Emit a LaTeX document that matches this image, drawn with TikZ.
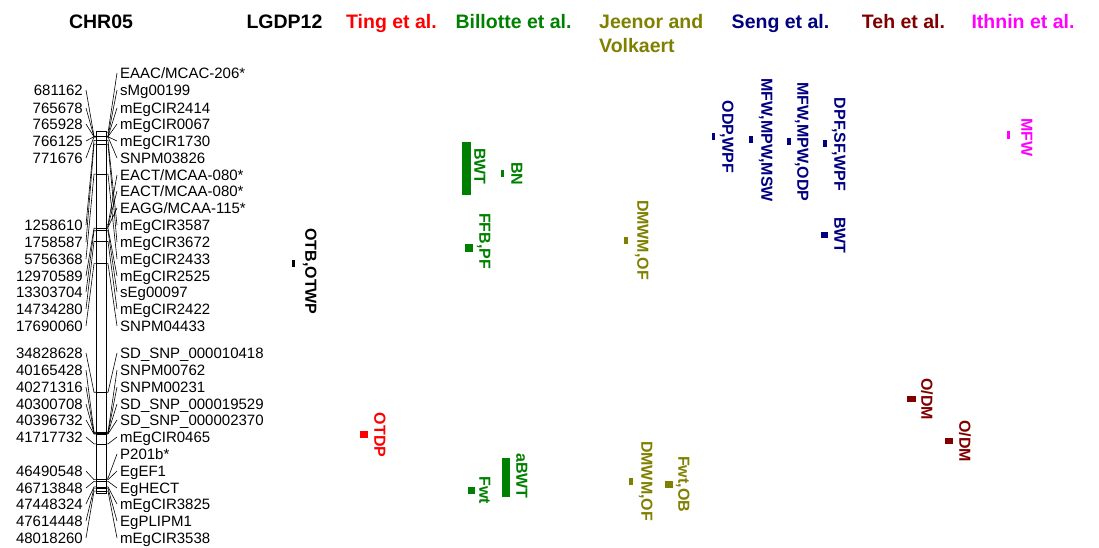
\documentclass[tikz,border=0pt]{standalone}
\usepackage{fontspec}
\setmainfont{Liberation Sans}
\definecolor{cgreen}{RGB}{0,128,0}
\definecolor{colive}{RGB}{128,128,0}
\definecolor{cnavy}{RGB}{0,0,128}
\definecolor{cmaroon}{RGB}{128,0,0}
\definecolor{cred}{RGB}{255,0,0}
\definecolor{cmag}{RGB}{255,0,255}
\begin{document}
\begin{tikzpicture}[x=1pt,y=-1pt,
  hdr/.style={font=\fontsize{19.5}{22}\selectfont\bfseries, inner sep=0, anchor=base},
  mk/.style={font=\fontsize{15}{16}\selectfont, inner sep=0, text height=10.7pt, text depth=0pt},
  qlab/.style={font=\fontsize{16}{18}\selectfont\bfseries, inner sep=0, rotate=-90, text height=11.5pt, text depth=0pt, anchor=center},
  conn/.style={line width=0.6pt},
  band/.style={line width=0.6pt},
  chrom/.style={line width=0.9pt}
]
\useasboundingbox[fill=white] (0,0) rectangle (1099,548);

% headers
\node[hdr] (hchr) at (101,28.5) {CHR05};
\node[hdr] (hlg) at (284.5,28.5) {LGDP12};
\node[hdr, text=cred] (hting) at (391.5,28.5) {Ting et al.};
\node[hdr, text=cgreen] (hbil) at (513.5,28.5) {Billotte et al.};
\node[hdr, text=colive, anchor=base west] (hjee) at (599,28.5) {Jeenor and};
\node[hdr, text=colive, anchor=base west] (hvol) at (599,53) {Volkaert};
\node[hdr, text=cnavy] (hseng) at (780.5,28.5) {Seng et al.};
\node[hdr, text=cmaroon] (hteh) at (903.5,28.5) {Teh et al.};
\node[hdr, text=cmag] (hith) at (1023,28.5) {Ithnin et al.};

% chromosome
\draw[chrom] (96,131) rectangle (106,493);

% left markers (positions)
\foreach \ly/\mb/\txt [count=\i] in {
 90/0.681162/681162, 108/0.765678/765678, 124/0.765928/765928, 141/0.766125/766125,
 158/0.771676/771676, 225/1.258610/1258610, 242/1.758587/1758587, 259/5.756368/5756368,
 276/12.970589/12970589, 292/13.303704/13303704, 309/14.734280/14734280, 326/17.690060/17690060,
 353/34.828628/34828628, 370/40.165428/40165428, 387/40.271316/40271316, 404/40.300708/40300708,
 420/40.396732/40396732, 437/41.717732/41717732, 471/46.490548/46490548, 488/46.713848/46713848,
 504/47.448324/47448324, 521/47.614448/47614448, 538/48.018260/48018260}{
  \pgfmathsetmacro\ym{131+7.5*\mb}
  \node[mk, anchor=east] (L\i) at (83,\ly) {\txt};
  \coordinate (CL\i) at (96,\ym);
  \draw[conn] ([xshift=3pt]L\i.east) -- ([xshift=-2pt]CL\i) -- (CL\i);
  \draw[band] (CL\i) -- ++(10,0);
}

% right markers (names)
\foreach \ly/\mb/\txt [count=\i] in {
 73/0.25/{EAAC/MCAC-206*}, 90/0.681162/sMg00199, 108/0.765678/mEgCIR2414, 124/0.765928/mEgCIR0067,
 141/0.766125/mEgCIR1730, 158/0.771676/SNPM03826, 175/12.5/{EACT/MCAA-080*}, 191/12.7/{EACT/MCAA-080*},
 208/12.85/{EAGG/MCAA-115*}, 225/1.258610/mEgCIR3587, 242/1.758587/mEgCIR3672, 259/5.756368/mEgCIR2433,
 276/12.970589/mEgCIR2525, 292/13.303704/sEg00097, 309/14.734280/mEgCIR2422, 326/17.690060/SNPM04433,
 353/34.828628/{SD\_SNP\_000010418}, 370/40.165428/SNPM00762, 387/40.271316/SNPM00231,
 404/40.300708/{SD\_SNP\_000019529}, 420/40.396732/{SD\_SNP\_000002370}, 437/41.717732/mEgCIR0465,
 454/46.3/{P201b*}, 471/46.490548/EgEF1, 488/46.713848/EgHECT, 504/47.448324/mEgCIR3825,
 521/47.614448/EgPLIPM1, 538/48.018260/mEgCIR3538}{
  \pgfmathsetmacro\ym{131+7.5*\mb}
  \node[mk, anchor=west] (R\i) at (120,\ly) {\txt};
  \coordinate (CR\i) at (106,\ym);
  \draw[conn] ([xshift=-3pt]R\i.west) -- ([xshift=2pt]CR\i) -- (CR\i);
}

% QTL bars
\fill[black] (291.5,259.5) rectangle (294.5,267);
\fill[cred] (360,431) rectangle (368,438);
\fill[cgreen] (462,142) rectangle (471,195);
\fill[cgreen] (500.5,170.5) rectangle (503.5,177.5);
\fill[cgreen] (465,244) rectangle (473,252);
\fill[cgreen] (502,458) rectangle (510,497);
\fill[cgreen] (468,487) rectangle (475,494);
\fill[colive] (624,236.5) rectangle (627.5,243.5);
\fill[colive] (629,477.5) rectangle (632.5,484.5);
\fill[colive] (665,481) rectangle (673,488);
\fill[cnavy] (711.5,133) rectangle (715,140);
\fill[cnavy] (748.5,136) rectangle (752.5,143);
\fill[cnavy] (786.5,138) rectangle (790.5,145);
\fill[cnavy] (822.5,140) rectangle (826.5,147);
\fill[cnavy] (821,232) rectangle (828,238);
\fill[cmaroon] (907,396) rectangle (916,402);
\fill[cmaroon] (945,438) rectangle (953,444);
\fill[cmag] (1007,131.5) rectangle (1010,139);

% QTL labels
\node[qlab] (q1) at (311,271.5) {OTB,OTWP};
\node[qlab, text=cred] (q2) at (380,435) {OTDP};
\node[qlab, text=cgreen] (q3) at (480,166.5) {BWT};
\node[qlab, text=cgreen] (q4) at (517,174) {BN};
\node[qlab, text=cgreen] (q5) at (485,241) {FFB,PF};
\node[qlab, text=cgreen] (q6) at (522,476) {aBWT};
\node[qlab, text=cgreen] (q7) at (485,490) {Fwt};
\node[qlab, text=colive] (q8) at (643,240) {DMWM,OF};
\node[qlab, text=colive] (q9) at (647,481) {DMWM,OF};
\node[qlab, text=colive] (q10) at (684,484) {Fwt,OB};
\node[qlab, text=cnavy] (q11) at (728,137) {ODP,WPF};
\node[qlab, text=cnavy] (q12) at (767,140) {MFW,MPW,MSW};
\node[qlab, text=cnavy] (q13) at (803,142) {MFW,MPW,ODP};
\node[qlab, text=cnavy] (q14) at (840,144.5) {DPF,SF,WPF};
\node[qlab, text=cnavy] (q15) at (840,235.5) {BWT};
\node[qlab, text=cmaroon] (q16) at (927,399) {O/DM};
\node[qlab, text=cmaroon] (q17) at (965,441) {O/DM};
\node[qlab, text=cmag] (q18) at (1027,137.5) {MFW};
\end{tikzpicture}
\end{document}
